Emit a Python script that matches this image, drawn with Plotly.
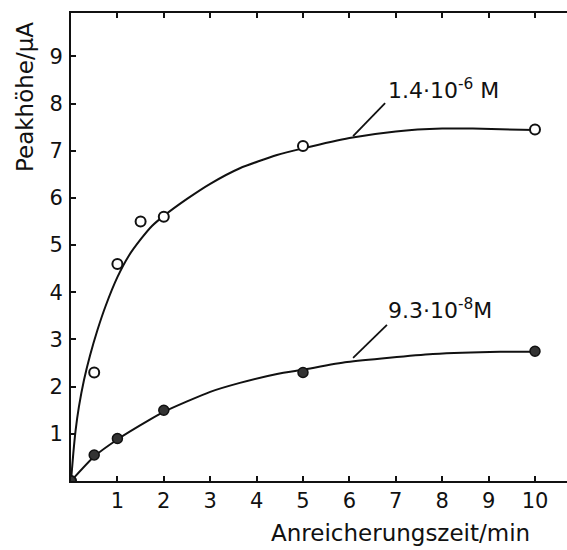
import plotly.graph_objects as go

# Measured points
t_high = [0, 0.5, 1, 1.5, 2, 5, 10]
i_high = [0, 2.3, 4.6, 5.5, 5.6, 7.1, 7.45]
t_low = [0, 0.5, 1, 2, 5, 10]
i_low = [0, 0.55, 0.9, 1.5, 2.3, 2.75]

# Fitted curves
curve_high_t = [0, 0.05, 0.10, 0.17, 0.28, 0.41, 0.57, 0.75, 1.0, 1.25, 1.5, 1.75, 2.0, 2.5, 3.0, 3.64, 4.44, 5.0, 6.0, 7.0, 8.0, 8.66, 10]
curve_high_i = [0, 0.59, 1.08, 1.57, 2.14, 2.66, 3.20, 3.72, 4.32, 4.78, 5.12, 5.41, 5.62, 5.98, 6.30, 6.63, 6.91, 7.05, 7.27, 7.41, 7.47, 7.47, 7.44]
curve_low_t = [0, 0.5, 1, 1.70, 2.03, 3.0, 3.64, 4.44, 5.0, 5.95, 7.8, 9.25, 10]
curve_low_i = [0, 0.52, 0.88, 1.30, 1.48, 1.89, 2.08, 2.27, 2.36, 2.52, 2.69, 2.74, 2.74]

x_ticks = [1, 2, 3, 4, 5, 6, 7, 8, 9, 10]
y_ticks = [1, 2, 3, 4, 5, 6, 7, 8, 9]

label_high = "1.4·10<sup>-6</sup> M"
label_low = "9.3·10<sup>-8</sup>M"
leader_high = ([6.08, 6.77], [7.31, 8.01])
leader_low = ([6.08, 6.81], [2.61, 3.31])

FONT = "DejaVu Sans"
INK = "#111111"
W, H = 567, 550
ML, MR, MT, MB = 71, 0, 13, 69
pw, ph = W - ML - MR, H - MT - MB

fig = go.Figure()
fig.add_trace(go.Scatter(x=curve_high_t, y=curve_high_i, mode="lines",
                         line=dict(color=INK, width=2, shape="spline", smoothing=0.6),
                         hoverinfo="skip"))
fig.add_trace(go.Scatter(x=curve_low_t, y=curve_low_i, mode="lines",
                         line=dict(color=INK, width=2, shape="spline", smoothing=0.6),
                         hoverinfo="skip"))
fig.add_trace(go.Scatter(x=t_high, y=i_high, mode="markers",
                         marker=dict(symbol="circle", size=10, color="white",
                                     line=dict(color=INK, width=2))))
fig.add_trace(go.Scatter(x=t_low, y=i_low, mode="markers",
                         marker=dict(symbol="circle", size=10, color="#333333",
                                     line=dict(color=INK, width=1.5))))

for xs, ys in (leader_high, leader_low):
    fig.add_shape(type="line", x0=xs[0], y0=ys[0], x1=xs[1], y1=ys[1],
                  xref="x", yref="y", line=dict(color=INK, width=1.8))

fig.add_annotation(x=6.78, y=7.98, xref="x", yref="y", text=label_high, showarrow=False,
                   xanchor="left", yanchor="bottom", font=dict(family=FONT, size=22, color=INK))
fig.add_annotation(x=6.78, y=3.3, xref="x", yref="y", text=label_low, showarrow=False,
                   xanchor="left", yanchor="bottom", font=dict(family=FONT, size=22, color=INK))

fig.add_annotation(x=(400 - ML) / pw, y=(H - MB - 533) / ph, xref="paper", yref="paper",
                   text="Anreicherungszeit/min", showarrow=False,
                   xanchor="center", yanchor="middle",
                   font=dict(family=FONT, size=23, color=INK))
fig.add_annotation(x=(25 - ML) / pw, y=(H - MB - 97) / ph, xref="paper", yref="paper",
                   text="Peakhöhe/μA", showarrow=False, textangle=-90,
                   xanchor="center", yanchor="middle",
                   font=dict(family=FONT, size=23, color=INK))

fig.update_layout(
    width=W, height=H,
    margin=dict(l=ML, r=MR, t=MT, b=MB),
    paper_bgcolor="white", plot_bgcolor="white",
    showlegend=False,
    font=dict(family=FONT, size=21, color=INK),
)

fig.update_xaxes(range=[0, 10.69], tickvals=x_ticks, ticktext=[str(v) for v in x_ticks],
                 showline=True, linecolor=INK, linewidth=2, mirror="ticks",
                 ticks="inside", ticklen=5, tickwidth=1.5, tickcolor=INK,
                 showgrid=False, zeroline=False, tickfont=dict(family=FONT, size=21, color=INK))
fig.update_yaxes(range=[0, 9.92], tickvals=y_ticks, ticktext=[str(v) for v in y_ticks],
                 showline=True, linecolor=INK, linewidth=2, mirror=False,
                 ticks="inside", ticklen=5, tickwidth=1.5, tickcolor=INK,
                 showgrid=False, zeroline=False, ticklabelstandoff=2,
                 tickfont=dict(family=FONT, size=21, color=INK))

fig.write_html("out.html", config={"displayModeBar": False},
               post_script="document.body.style.margin='0';document.body.style.overflow='hidden';")
